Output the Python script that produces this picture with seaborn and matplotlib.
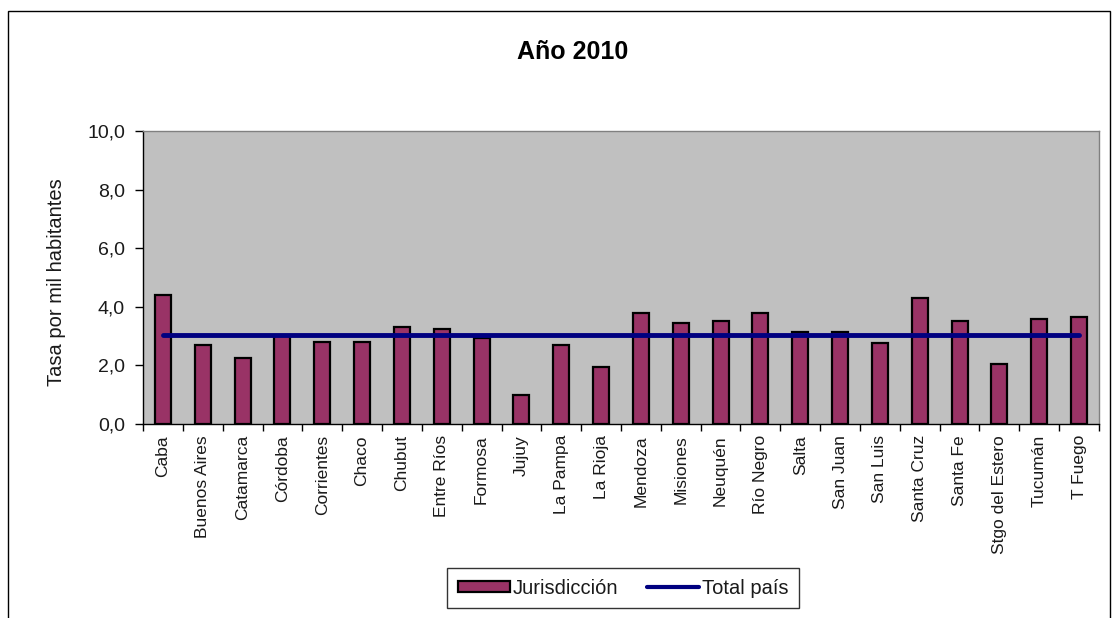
import numpy as np
import pandas as pd
import matplotlib
matplotlib.use('Agg')
import matplotlib.pyplot as plt
import seaborn as sns
from matplotlib.patches import Patch, Rectangle
from matplotlib.lines import Line2D
from matplotlib.ticker import FuncFormatter, FixedLocator

# Data
provincias = ['Caba', 'Buenos Aires', 'Catamarca', 'Córdoba', 'Corrientes', 'Chaco',
              'Chubut', 'Entre Ríos', 'Formosa', 'Jujuy', 'La Pampa', 'La Rioja',
              'Mendoza', 'Misiones', 'Neuquén', 'Río Negro', 'Salta', 'San Juan',
              'San Luis', 'Santa Cruz', 'Santa Fe', 'Stgo del Estero', 'Tucumán', 'T Fuego']
tasa = [4.4, 2.7, 2.25, 3.0, 2.8, 2.8, 3.3, 3.25, 2.95, 1.0, 2.7, 1.95,
        3.8, 3.45, 3.5, 3.8, 3.15, 3.15, 2.75, 4.3, 3.5, 2.05, 3.6, 3.65]
total_pais = 3.05

df = pd.DataFrame({'provincia': provincias, 'tasa': tasa})
df['pos'] = np.arange(len(df))
df['total'] = total_pais

sns.set_style('white')
plt.rcParams['font.family'] = ['Liberation Sans', 'DejaVu Sans']
txt_color = '#1a1a1a'

fig = plt.figure(figsize=(11.19, 6.18), dpi=100)
ax = fig.add_axes([143 / 1119, 1 - 424 / 618, (1099 - 143) / 1119, (424 - 131) / 618])
ax.set_facecolor('#C0C0C0')

sns.barplot(data=df, x='pos', y='tasa', color='#993366', edgecolor='black',
            linewidth=1.6, width=0.4, saturation=1, ax=ax, native_scale=True)
sns.lineplot(data=df, x='pos', y='total', color='#000080', linewidth=3.5, ax=ax)

ax.set_xlim(-0.5, len(df) - 0.5)
ax.set_ylim(0, 10)
ax.set_yticks([0, 2, 4, 6, 8, 10])
ax.yaxis.set_major_formatter(FuncFormatter(lambda v, p: f'{v:.1f}'.replace('.', ',')))
ax.set_xticks(df['pos'])
ax.set_xticklabels(df['provincia'], rotation=90, fontsize=12.5, color=txt_color)
ax.xaxis.set_minor_locator(FixedLocator(np.arange(-0.5, len(df), 1.0)))
ax.tick_params(axis='x', which='major', length=0, pad=8)
ax.tick_params(axis='x', which='minor', length=5, width=1, color='black', bottom=True)
ax.tick_params(axis='y', length=6, width=1, color='black', left=True, labelsize=14,
               pad=7, labelcolor=txt_color)
ax.set_xlabel('')
ax.set_ylabel('')

for side in ['left', 'bottom']:
    ax.spines[side].set_color('black')
    ax.spines[side].set_linewidth(1)
for side in ['top', 'right']:
    ax.spines[side].set_color('#808080')
    ax.spines[side].set_linewidth(1)

fig.text(57 / 1119, 1 - 282 / 618, 'Tasa por mil habitantes', rotation=90,
         ha='center', va='center', fontsize=14.5, color=txt_color)
fig.text(573 / 1119, 1 - 52 / 618, 'Año 2010', ha='center', va='center',
         fontsize=18, fontweight='bold', color='black')

handles = [Patch(facecolor='#993366', edgecolor='black', linewidth=1.6),
           Line2D([0], [0], color='#000080', linewidth=3)]
leg = fig.legend(handles, ['Jurisdicción', 'Total país'], loc='center',
                 bbox_to_anchor=(623 / 1119, 1 - 588 / 618), ncol=2, fontsize=14.5,
                 frameon=True, fancybox=False, edgecolor='black', handlelength=2.6,
                 handleheight=0.5, handletextpad=0.15, columnspacing=1.4,
                 borderpad=0.2, borderaxespad=0, labelcolor=txt_color)
leg.get_frame().set_linewidth(1)
leg.get_frame().set_boxstyle('square', pad=0.3)

# outer chart border
fig.patches.append(Rectangle((8 / 1119, -0.05), (1110 - 8) / 1119, 1 - 11 / 618 + 0.05,
                             transform=fig.transFigure, fill=False,
                             edgecolor='black', linewidth=1))

fig.savefig('out.png', dpi=100)
